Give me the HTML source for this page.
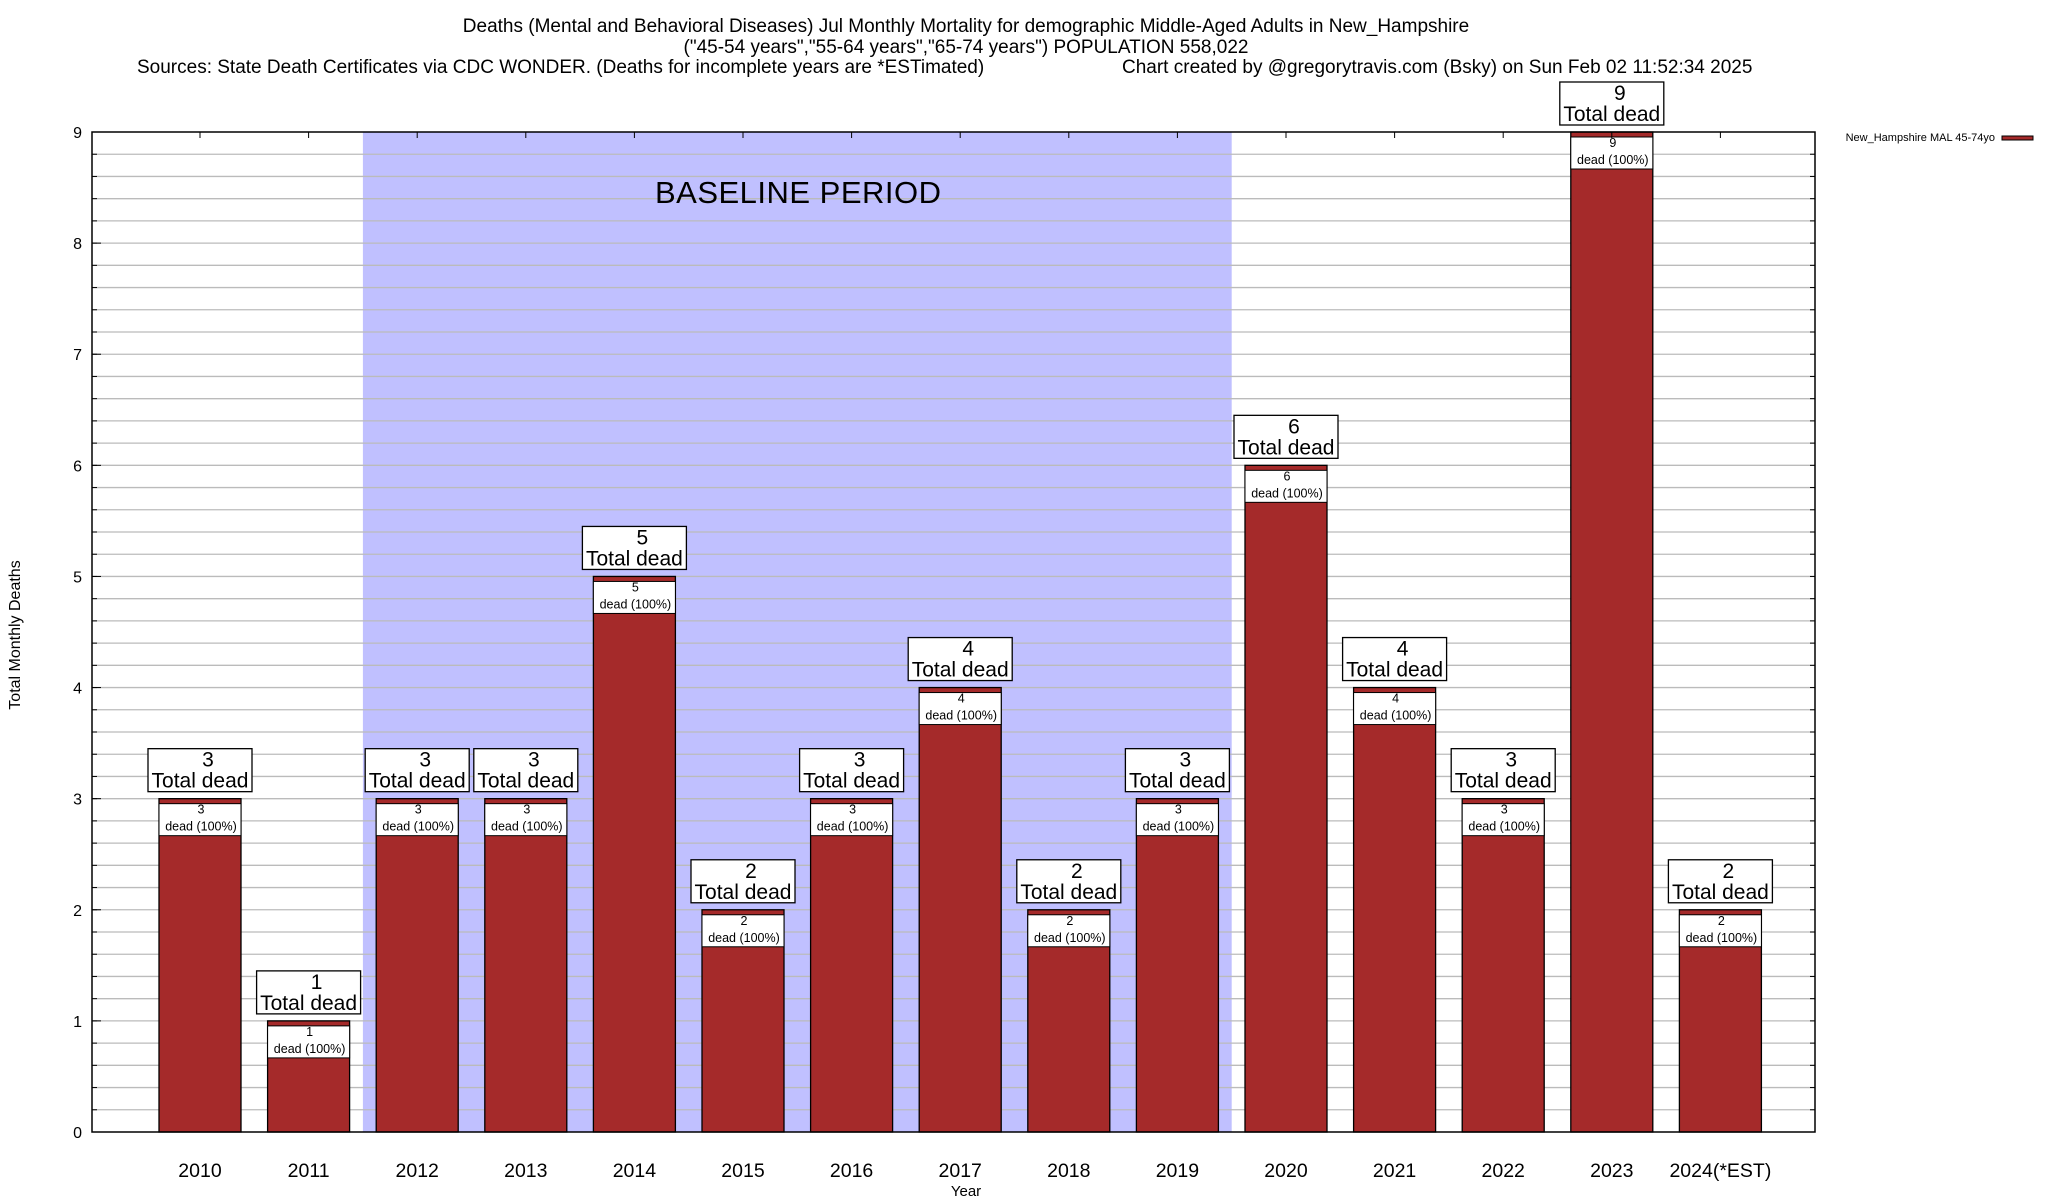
<!DOCTYPE html>
<html><head><meta charset="utf-8">
<style>
html,body{margin:0;padding:0;background:#fff;}
svg{display:block;font-family:"Liberation Sans",Arial,sans-serif;}
</style></head>
<body>
<svg id="chart" width="2048" height="1200" viewBox="0 0 2048 1200" xmlns="http://www.w3.org/2000/svg">
  <rect x="0" y="0" width="2048" height="1200" fill="#fff"/>
  <text x="966" y="32" font-size="19" text-anchor="middle">Deaths (Mental and Behavioral Diseases) Jul Monthly Mortality for demographic Middle-Aged Adults in New_Hampshire</text>
  <text x="966" y="53" font-size="19" text-anchor="middle">("45-54 years","55-64 years","65-74 years") POPULATION 558,022</text>
  <text x="137" y="73" font-size="19">Sources: State Death Certificates via CDC WONDER. (Deaths for incomplete years are *ESTimated)</text>
  <text x="1122" y="73" font-size="19">Chart created by @gregorytravis.com (Bsky) on Sun Feb 02 11:52:34 2025</text>
  <g id="plot"></g>
  <text transform="translate(20,635) rotate(-90)" font-size="16" text-anchor="middle">Total Monthly Deaths</text>
  <text x="966" y="1196" font-size="15" text-anchor="middle">Year</text>
  <g>
    <text x="1995" y="141" font-size="11" text-anchor="end">New_Hampshire MAL 45-74yo</text>
    <rect x="2002" y="136" width="31" height="4" fill="#a52a2a" stroke="#000" stroke-width="1"/>
  </g>
</svg>
<script>
const categories = ["2010","2011","2012","2013","2014","2015","2016","2017","2018","2019","2020","2021","2022","2023","2024(*EST)"];
const deaths = [3,1,3,3,5,2,3,4,2,3,6,4,3,9,2];
const yTickLabels = [0,1,2,3,4,5,6,7,8,9];
const baselineStartIndex = 2;
const baselineEndIndex = 9;

const NS = "http://www.w3.org/2000/svg";
const plot = document.getElementById("plot");
const L = 92, R = 1815, T = 132, B = 1132;
const yMax = 9;
const y = v => B - (v / yMax) * (B - T);
const x = i => 200 + i * 108.6;
function mk(tag, attrs, parent) {
  const el = document.createElementNS(NS, tag);
  for (const k in attrs) el.setAttribute(k, attrs[k]);
  (parent || plot).appendChild(el);
  return el;
}

// baseline shading
const shade = mk("rect", {x: x(baselineStartIndex - 0.5), y: T, width: x(baselineEndIndex + 0.5) - x(baselineStartIndex - 0.5), height: B - T, fill: "#c0c0ff"});



// grid lines (minor every 0.2)
for (let v = 0.2; v < yMax - 0.01; v += 0.2) {
  const g = mk("line", {x1: L, x2: R, y1: y(v), y2: y(v), stroke: "#bbbbbb", "stroke-width": 1.3});
  
  
  const t1 = mk("line", {x1: L, x2: L + 5, y1: y(v), y2: y(v), stroke: "#000"});
  
  
  const t2 = mk("line", {x1: R - 5, x2: R, y1: y(v), y2: y(v), stroke: "#000"});
  
  
}

const bl = mk("text", {x: 798, y: 203, "font-size": 31, "text-anchor": "middle", textLength: 286});


bl.textContent = "BASELINE PERIOD";

// y tick labels
yTickLabels.forEach(v => {
  const t = mk("text", {x: 82, y: y(v) + 6, "font-size": 16, "text-anchor": "end"});
  
  
  t.textContent = v;
  const tk = mk("line", {x1: L, x2: L + 9, y1: y(v), y2: y(v), stroke: "#000"});
  
  
});

// bars
categories.forEach((c, i) => {
  const cx = x(i), v = deaths[i];
  const top = y(v);
  const bar = mk("rect", {x: cx - 41, y: top, width: 82, height: B - top, fill: "#a52a2a", stroke: "#000", "stroke-width": 1.3});
  
  

  const inner = mk("rect", {x: cx - 41, y: top + 5, width: 82, height: 32, fill: "#fff", stroke: "#000", "stroke-width": 1});
  
  
  const it1 = mk("text", {x: cx + 1, y: top + 15, "font-size": 12.5, "text-anchor": "middle"});
  
  
  it1.textContent = v;
  const it2 = mk("text", {x: cx + 1, y: top + 32, "font-size": 12.5, "text-anchor": "middle"});
  
  
  it2.textContent = "dead (100%)";

  const ob = mk("rect", {x: cx - 52, y: top - 50, width: 104, height: 43, fill: "#fff", stroke: "#000", "stroke-width": 1.3});
  
  
  const ot1 = mk("text", {x: cx + 8, y: top - 32, "font-size": 21, "text-anchor": "middle"});
  
  
  ot1.textContent = v;
  const ot2 = mk("text", {x: cx, y: top - 11, "font-size": 21, "text-anchor": "middle"});
  
  
  ot2.textContent = "Total dead";

  const xl = mk("text", {x: cx, y: 1177, "font-size": 19.5, "text-anchor": "middle"});
  
  
  xl.textContent = c;
  const xt = mk("line", {x1: cx, x2: cx, y1: T, y2: T + 6, stroke: "#000"});
  
  
});

// border
const border = mk("rect", {x: L, y: T, width: R - L, height: B - T, fill: "none", stroke: "#000", "stroke-width": 1.5});


</script>
</body></html>
